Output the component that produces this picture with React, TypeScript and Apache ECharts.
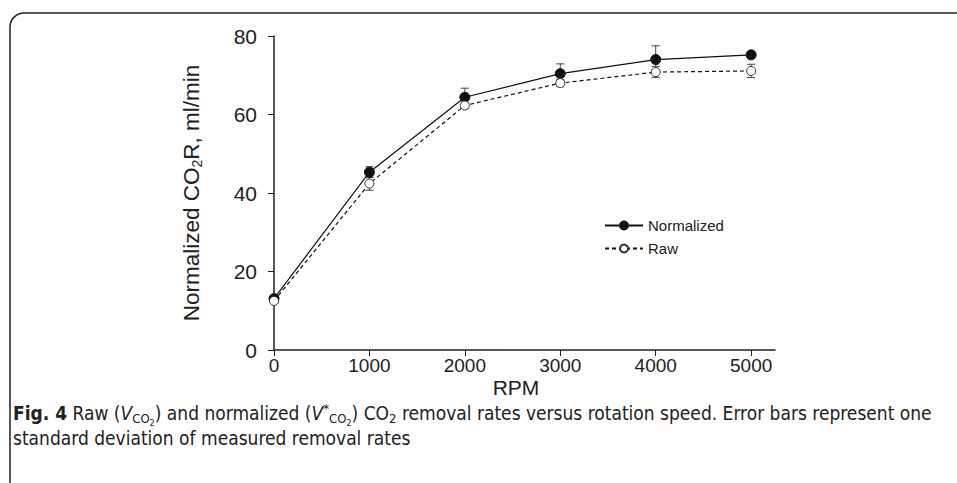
import React, { useEffect, useRef } from "react";
import * as echarts from "echarts";

const rpm = [0, 1000, 2000, 3000, 4000, 5000];
const normalized = [13.1, 45.3, 64.4, 70.4, 74.0, 75.2];
const normalizedSD = [0.5, 1.4, 2.3, 2.5, 3.5, 0.9];
const raw = [12.5, 42.4, 62.3, 68.0, 70.8, 71.1];
const rawSD = [0.5, 1.7, 0.8, 0.9, 1.4, 1.7];
const xTicks = [0, 1000, 2000, 3000, 4000, 5000];
const yTicks = [0, 20, 40, 60, 80];
const xTitle = "RPM";

const FONT = "'Liberation Sans', Arial, sans-serif";
const CAP_FONT = "'Liberation Sans Narrow', 'DejaVu Sans Condensed', 'Liberation Sans', sans-serif";

function errorData(vals: number[], sd: number[]) {
  return rpm.map((x, i) => [x, vals[i] - sd[i], vals[i] + sd[i]]);
}

function renderErr(params: any, api: any) {
  const x = api.value(0);
  const lo = api.coord([x, api.value(1)]);
  const hi = api.coord([x, api.value(2)]);
  const w = 4;
  const style = { stroke: "#444", lineWidth: 1 };
  return {
    type: "group",
    children: [
      { type: "line", shape: { x1: lo[0], y1: lo[1], x2: hi[0], y2: hi[1] }, style },
      { type: "line", shape: { x1: lo[0] - w, y1: lo[1], x2: lo[0] + w, y2: lo[1] }, style },
      { type: "line", shape: { x1: hi[0] - w, y1: hi[1], x2: hi[0] + w, y2: hi[1] }, style },
    ],
  };
}

export default function App() {
  const ref = useRef<HTMLDivElement>(null);
  useEffect(() => {
    if (!ref.current) return;
    const chart = echarts.init(ref.current, null, { renderer: "svg" });
    const capStyle = { fontFamily: CAP_FONT, fill: "#222", lineHeight: 25 };
    chart.setOption({
      animation: false,
      backgroundColor: "#fff",
      textStyle: { fontFamily: FONT },
      grid: { left: 274, top: 36, width: 501, height: 314, containLabel: false },
      legend: {
        left: 599,
        top: 213,
        orient: "vertical",
        itemWidth: 38,
        itemHeight: 10,
        itemGap: 8,
        textStyle: { fontSize: 15, color: "#222", fontFamily: FONT },
        data: ["Normalized", "Raw"],
      },
      xAxis: {
        type: "value",
        min: 0,
        max: 5250,
        interval: 1000,
        axisLine: { show: true, lineStyle: { color: "#222", width: 1.5 } },
        axisTick: { show: true, length: 6, lineStyle: { color: "#222", width: 1 }, customValues: xTicks },
        axisLabel: {
          fontSize: 19,
          color: "#222",
          margin: 6,
          customValues: xTicks,
          formatter: (v: number) => String(v),
        },
        splitLine: { show: false },
      },
      yAxis: {
        type: "value",
        min: 0,
        max: 80,
        interval: 20,
        name: "Normalized CO{sub|2}R, ml/min",
        nameLocation: "middle",
        nameGap: 70,
        nameTextStyle: {
          fontSize: 22.5,
          color: "#222",
          fontFamily: FONT,
          rich: { sub: { fontSize: 14, padding: [12, 0, 0, 0], color: "#222", fontFamily: FONT } },
        },
        axisLine: { show: true, lineStyle: { color: "#222", width: 1.5 } },
        axisTick: { show: true, length: 6, lineStyle: { color: "#222", width: 1 } },
        axisLabel: { fontSize: 21, color: "#222", margin: 17, customValues: yTicks },
        splitLine: { show: false },
      },
      series: [
        {
          type: "custom",
          name: "errN",
          renderItem: renderErr,
          data: errorData(normalized, normalizedSD),
          z: 1,
          silent: true,
        },
        {
          type: "custom",
          name: "errR",
          renderItem: renderErr,
          data: errorData(raw, rawSD),
          z: 1,
          silent: true,
        },
        {
          type: "line",
          name: "Normalized",
          data: rpm.map((x, i) => [x, normalized[i]]),
          symbol: "circle",
          symbolSize: 10,
          showSymbol: true,
          lineStyle: { color: "#111", width: 1.2, type: "solid" },
          itemStyle: { color: "#111", borderColor: "#111", borderWidth: 1 },
          z: 3,
        },
        {
          type: "line",
          name: "Raw",
          data: rpm.map((x, i) => [x, raw[i]]),
          symbol: "circle",
          symbolSize: 9,
          showSymbol: true,
          lineStyle: { color: "#111", width: 1.2, type: [4, 3] },
          itemStyle: { color: "#fff", borderColor: "#333", borderWidth: 1 },
          z: 4,
        },
      ],
      graphic: [
        {
          type: "rect",
          shape: { x: 10, y: 13, width: 1000, height: 600, r: 14 },
          style: { fill: "none", stroke: "#222", lineWidth: 1.5 },
          silent: true,
          z: 0,
        },
        {
          type: "text",
          x: 516,
          y: 387,
          style: {
            text: xTitle,
            fontFamily: FONT,
            fontSize: 21,
            fill: "#222",
            align: "center",
            verticalAlign: "middle",
          },
        },
        {
          type: "text",
          left: 13,
          top: 399,
          style: {
            text:
              "{b|Fig. 4} Raw ({i|V}{s|CO}{ss|2}) and normalized ({i|V}{sup|*}{s|CO}{ss|2}) CO{s|2} removal rates versus rotation speed. Error bars represent one\nstandard deviation of measured removal rates",
            fontFamily: CAP_FONT,
            fontSize: 19,
            fill: "#222",
            lineHeight: 25,
            rich: {
              b: { ...capStyle, fontWeight: "bold", fontSize: 19 },
              i: { ...capStyle, fontStyle: "italic", fontSize: 19 },
              s: { ...capStyle, fontSize: 13, padding: [11, 0, 0, 0] },
              ss: { ...capStyle, fontSize: 9, padding: [19, 0, 0, 0] },
              sup: { ...capStyle, fontSize: 13, padding: [0, 0, 9, 0] },
            },
          },
        },
      ],
    });
    return () => chart.dispose();
  }, []);
  return (
    <div
      ref={ref}
      style={{ position: "fixed", left: 0, top: 0, width: 957, height: 483, background: "#fff" }}
    />
  );
}
